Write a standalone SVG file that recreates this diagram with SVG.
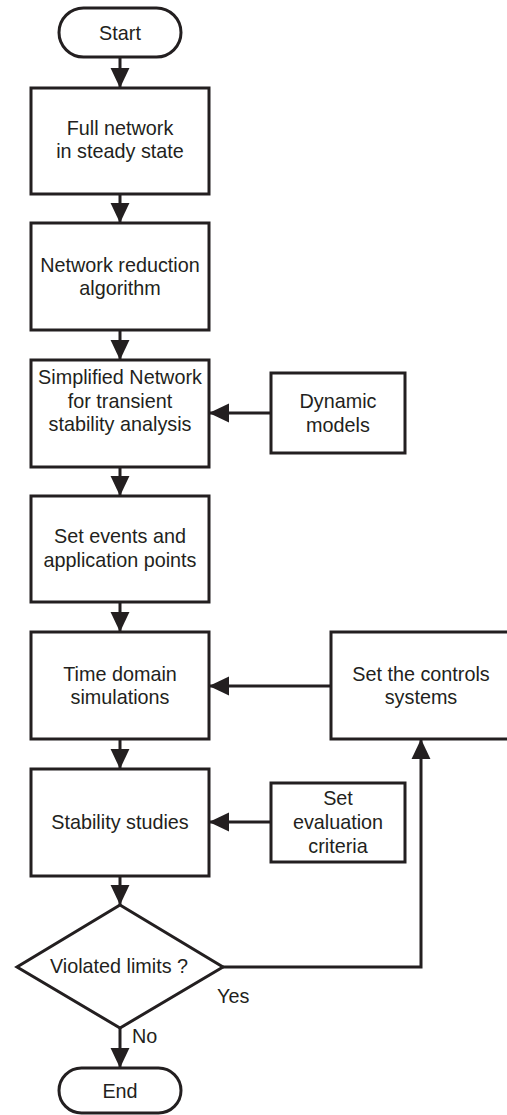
<svg xmlns="http://www.w3.org/2000/svg" width="507" height="1115" viewBox="0 0 507 1115">
<style>
.n{fill:#fff;stroke:#231f20;stroke-width:3}
.c{fill:none;stroke:#231f20;stroke-width:3}
text{font-family:"Liberation Sans",Arial,sans-serif;font-size:19.8px;fill:#231f20;text-anchor:middle}
.l{text-anchor:start}
</style>
<defs>
<marker id="ah" markerUnits="userSpaceOnUse" markerWidth="20" markerHeight="20" viewBox="0 0 18 18" refX="18" refY="9" orient="auto">
<path d="M0,0.5 L18,9 L0,17.5 Z" fill="#231f20"/>
</marker>
</defs>
<g id="connectors">
<path class="c" d="M120,57 V88" marker-end="url(#ah)"/>
<path class="c" d="M120,194 V223" marker-end="url(#ah)"/>
<path class="c" d="M120,330 V360" marker-end="url(#ah)"/>
<path class="c" d="M271,413 H209" marker-end="url(#ah)"/>
<path class="c" d="M120,467 V496" marker-end="url(#ah)"/>
<path class="c" d="M120,602 V632" marker-end="url(#ah)"/>
<path class="c" d="M331,686 H209" marker-end="url(#ah)"/>
<path class="c" d="M120,739 V769" marker-end="url(#ah)"/>
<path class="c" d="M271,822 H209" marker-end="url(#ah)"/>
<path class="c" d="M120,876 V905" marker-end="url(#ah)"/>
<path class="c" d="M223,967 H421 V739" marker-end="url(#ah)"/>
<path class="c" d="M120,1028 V1068" marker-end="url(#ah)"/>
<text class="l" x="217" y="1003">Yes</text>
<text class="l" x="132" y="1043">No</text>
</g>
<g id="start">
<rect class="n" x="59" y="8" width="122" height="49" rx="24.5"/>
<text x="120" y="39.5">Start</text>
</g>
<g id="full-network">
<rect class="n" x="31" y="88" width="178" height="106"/>
<text x="120" y="135">Full network</text>
<text x="120" y="158">in steady state</text>
</g>
<g id="reduction">
<rect class="n" x="31" y="223" width="178" height="107"/>
<text x="120" y="272">Network reduction</text>
<text x="120" y="295">algorithm</text>
</g>
<g id="simplified">
<rect class="n" x="31" y="360" width="178" height="107"/>
<text x="120" y="384">Simplified Network</text>
<text x="120" y="407.5">for transient</text>
<text x="120" y="431">stability analysis</text>
</g>
<g id="dynamic">
<rect class="n" x="271" y="373" width="134" height="80"/>
<text x="338" y="408">Dynamic</text>
<text x="338" y="432">models</text>
</g>
<g id="events">
<rect class="n" x="31" y="496" width="178" height="106"/>
<text x="120" y="543">Set events and</text>
<text x="120" y="567">application points</text>
</g>
<g id="time-domain">
<rect class="n" x="31" y="632" width="178" height="107"/>
<text x="120" y="681">Time domain</text>
<text x="120" y="704">simulations</text>
</g>
<g id="controls">
<rect class="n" x="331" y="632" width="180" height="107"/>
<text x="421" y="681">Set the controls</text>
<text x="421" y="704">systems</text>
</g>
<g id="stability">
<rect class="n" x="31" y="769" width="178" height="107"/>
<text x="120" y="829">Stability studies</text>
</g>
<g id="criteria">
<rect class="n" x="271" y="783" width="134" height="79"/>
<text x="338" y="805">Set</text>
<text x="338" y="829">evaluation</text>
<text x="338" y="853">criteria</text>
</g>
<g id="decision">
<path class="n" d="M120,905 L223,967 L120,1028 L17,967 Z"/>
<text x="119" y="973">Violated limits ?</text>
</g>
<g id="end">
<rect class="n" x="59" y="1068" width="122" height="45" rx="22.5"/>
<text x="120" y="1098">End</text>
</g>
</svg>
